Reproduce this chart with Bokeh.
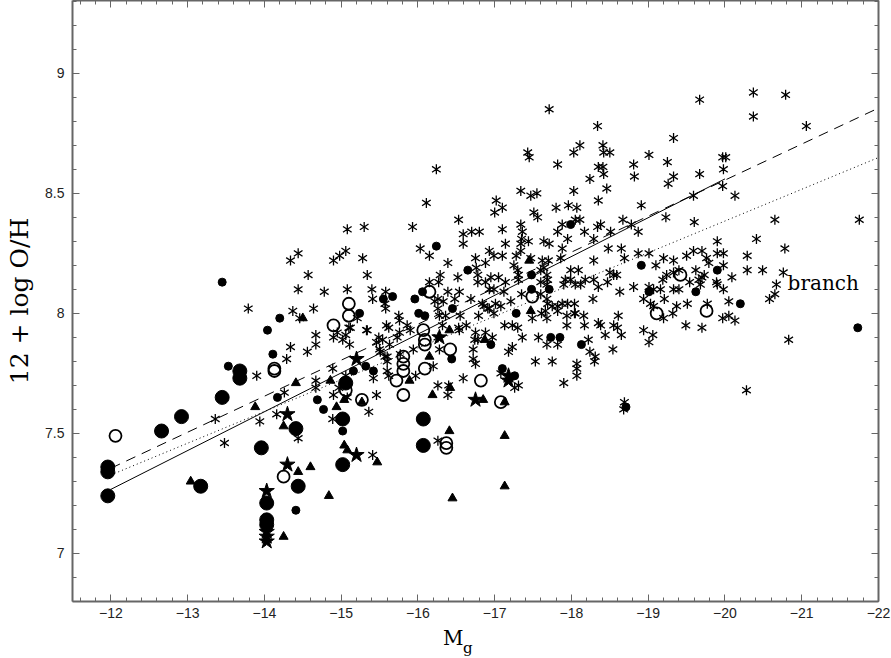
import numpy as np
from bokeh.plotting import figure
from bokeh.layouts import column
from bokeh.models import Range1d, LinearAxis, FixedTicker, Label, CustomJSTickFormatter
from bokeh.embed import file_html
from bokeh.resources import INLINE

# ---------------- data ----------------
# asterisks
ast_x = [-13.79, -14.34, -14.44, -14.44, -14.37, -14.46, -14.34, -14.29, -13.90, -13.36, -13.48, -13.94, -14.16, -14.26, -14.44,
         -17.71, -18.34, -17.43, -17.45, -18.11, -18.03, -17.82, -18.35, -18.24, -16.24,
         -17.34, -17.47, -17.55, -18.03, -16.11, -17.02, -17.00, -17.10, -16.53, -17.51,
         -17.56, -17.80, -17.96, -18.07, -18.35, -15.93, -15.08, -15.30, -16.59, -16.70,
         -16.80, -16.59, -17.10, -17.34, -17.36, -17.35, -17.82, -17.88, -18.11, -18.05,
         -18.17, -18.34, -16.03, -17.64, -17.71, -17.44, -17.34, -17.95, -17.88, -18.29,
         -14.90, -14.98, -15.06, -15.28, -16.15, -16.39, -16.75, -16.93, -16.99, -17.10,
         -17.14, -16.88, -17.34, -17.28, -17.47, -17.25, -17.30, -17.31, -17.64, -17.70,
         -17.60, -17.68, -17.69, -17.86, -17.99, -18.09, -18.29, -18.29, -18.35, -14.57,
         -15.34, -15.08, -14.78, -15.40, -15.41, -14.64, -15.58, -16.29, -16.27, -16.76,
         -16.78, -16.78, -16.88, -16.95, -17.05, -17.14, -16.93, -16.99, -17.12, -17.31,
         -17.60, -17.68, -17.92, -17.90, -18.05, -18.18, -16.39, -16.26, -16.33, -16.48,
         -16.54, -16.69, -16.84, -16.91, -17.08, -17.21, -17.35, -17.60, -17.68, -17.69,
         -17.75, -17.82, -17.95, -18.28, -15.58, -15.75, -15.76, -15.59, -15.62, -15.12,
         -15.34, -15.86, -15.90, -16.26, -16.28, -16.36, -16.53, -16.63, -16.79, -16.86,
         -16.93, -16.99, -17.13, -17.23, -17.30, -17.61, -17.68, -17.94, -17.94, -18.05,
         -18.16, -18.17, -18.35,
         -16.15, -16.22, -16.52, -17.01, -17.62, -17.99, -18.12, -18.04, -17.88, -15.57,
         -19.67, -20.37, -20.79, -20.37, -21.06, -19.33, -18.41, -18.42, -18.50, -19.01,
         -18.81, -19.25, -19.97, -20.01, -18.41, -18.42, -18.82, -19.33, -19.67, -19.98,
         -19.26, -18.46, -19.97, -19.59, -20.13, -18.91, -18.67, -19.23, -20.65, -21.75,
         -18.78, -19.60, -18.38, -18.51, -18.87, -19.90, -20.41, -18.48, -18.65, -20.78,
         -18.69, -18.87, -19.01, -19.20, -19.33, -19.50, -19.59, -19.70, -19.76, -19.90,
         -19.98, -20.29, -19.10, -19.19, -19.24, -19.33, -19.40, -19.62, -19.70, -19.73,
         -19.79, -19.98, -20.09, -19.89, -19.90, -19.98, -20.29, -20.49, -20.76, -20.67,
         -20.65, -20.58, -18.47, -18.55, -18.59, -18.50, -18.63, -18.81, -18.94, -19.01,
         -19.07, -19.16, -19.21, -19.33, -19.40, -19.03, -19.07, -19.37, -19.51, -19.54,
         -19.66, -19.68,
         -19.77, -20.05, -19.97, -20.05, -20.13, -19.32, -19.20, -19.49, -19.70, -18.61,
         -18.55, -18.60, -18.94, -18.38,
         -18.44, -18.65, -19.06, -18.54, -19.01, -20.83, -20.28, -18.69, -18.68,
         -14.67, -14.90, -15.02, -14.67, -14.56, -15.11, -15.49, -15.54, -15.63, -15.51,
         -15.60, -15.06, -14.89, -14.67, -14.67, -14.90, -14.97, -15.08, -15.42, -15.62,
         -15.46, -15.36, -14.89, -15.41, -15.46, -15.73, -15.97, -16.20, -16.26, -16.39,
         -16.40, -16.26, -16.59, -16.72, -16.72, -16.75, -16.78, -16.97, -17.18, -17.23,
         -17.36, -17.53, -17.57, -17.68, -17.75, -17.82, -17.90, -18.07, -18.07, -18.07,
         -18.22, -18.24, -18.31, -17.31, -17.08,
         -14.95, -15.06, -15.10, -15.33, -15.21, -15.76, -15.50, -15.57, -15.60, -15.94,
         -15.77, -15.60,
         -16.32, -16.55, -16.54, -16.75, -16.88, -16.74, -16.26, -16.28, -17.26, -18.04,
         -18.30, -17.49, -17.66, -17.82]
ast_y = [8.02, 8.22, 8.25, 8.10, 8.01, 7.98, 7.86, 7.81, 7.74, 7.56, 7.46, 7.55, 7.58, 7.67, 7.48,
         8.85, 8.78, 8.67, 8.65, 8.70, 8.67, 8.62, 8.61, 8.56, 8.60,
         8.51, 8.49, 8.50, 8.51, 8.46, 8.47, 8.42, 8.44, 8.39, 8.42,
         8.40, 8.44, 8.45, 8.44, 8.47, 8.36, 8.35, 8.36, 8.33, 8.34,
         8.34, 8.29, 8.35, 8.37, 8.34, 8.31, 8.34, 8.37, 8.39, 8.39,
         8.34, 8.36, 8.27, 8.30, 8.29, 8.30, 8.29, 8.31, 8.27, 8.31,
         8.22, 8.24, 8.26, 8.23, 8.24, 8.21, 8.23, 8.26, 8.24, 8.24,
         8.29, 8.21, 8.26, 8.24, 8.23, 8.20, 8.18, 8.16, 8.19, 8.22,
         8.18, 8.16, 8.14, 8.23, 8.18, 8.18, 8.22, 8.14, 8.11, 8.16,
         8.16, 8.10, 8.09, 8.10, 8.06, 8.02, 8.09, 8.16, 8.13, 8.19,
         8.16, 8.13, 8.13, 8.15, 8.15, 8.13, 8.10, 8.10, 8.09, 8.14,
         8.13, 8.12, 8.14, 8.12, 8.12, 8.14, 8.09, 8.06, 8.05, 8.06,
         8.09, 8.06, 8.04, 8.02, 8.03, 8.05, 8.08, 8.08, 8.06, 8.04,
         8.03, 8.03, 8.04, 8.06, 8.02, 7.99, 7.97, 7.95, 7.94, 7.94,
         7.93, 7.95, 7.93, 8.02, 7.99, 7.99, 7.94, 7.95, 7.99, 8.03,
         8.02, 8.00, 7.95, 7.95, 7.94, 8.00, 7.98, 7.99, 7.95, 8.00,
         7.99, 7.95, 7.96,
         8.13, 8.05, 8.15, 8.04, 8.22, 8.14, 8.12, 8.04, 8.04, 8.04,
         8.89, 8.92, 8.91, 8.82, 8.78, 8.73, 8.70, 8.67, 8.67, 8.66,
         8.62, 8.63, 8.65, 8.65, 8.61, 8.58, 8.57, 8.57, 8.58, 8.60,
         8.54, 8.52, 8.53, 8.49, 8.49, 8.45, 8.39, 8.40, 8.39, 8.39,
         8.37, 8.38, 8.37, 8.34, 8.34, 8.30, 8.31, 8.27, 8.27, 8.27,
         8.23, 8.25, 8.25, 8.23, 8.22, 8.24, 8.26, 8.26, 8.23, 8.25,
         8.25, 8.24, 8.20, 8.14, 8.16, 8.17, 8.18, 8.18, 8.15, 8.16,
         8.21, 8.20, 8.15, 8.13, 8.12, 8.10, 8.18, 8.18, 8.17, 8.12,
         8.08, 8.06, 8.13, 8.16, 8.16, 8.17, 8.09, 8.11, 8.06, 8.11,
         8.10, 8.10, 8.06, 8.10, 8.10, 8.04, 8.03, 8.03, 8.04, 8.13,
         8.14, 8.12,
         8.04, 8.05, 7.98, 7.99, 7.97, 8.00, 7.98, 7.95, 7.94, 7.99,
         7.95, 7.94, 7.93, 7.95,
         7.91, 7.91, 7.91, 7.85, 7.88, 7.89, 7.68, 7.63, 7.60,
         7.91, 7.90, 7.89, 7.87, 7.84, 7.87, 7.90, 7.89, 7.87, 7.84,
         7.82, 7.74, 7.77, 7.72, 7.69, 7.66, 7.69, 7.65, 7.73, 7.74,
         7.66, 7.59, 7.56, 7.41, 7.88, 7.90, 7.74, 7.78, 7.70, 7.66,
         7.70, 7.47, 7.73, 7.85, 7.81, 7.79, 7.89, 7.90, 7.84, 7.86,
         7.90, 7.80, 7.90, 7.87, 7.80, 7.87, 7.71, 7.79, 7.77, 7.74,
         7.89, 7.84, 7.82, 7.70, 7.75,
         7.92, 7.91, 7.94, 7.93, 7.98, 7.92, 7.85, 7.82, 7.80, 7.85,
         7.83, 7.76,
         7.95, 7.99, 7.93, 7.92, 7.92, 7.89, 7.90, 7.85, 7.69, 8.00,
         7.80, 7.98, 8.01, 8.01]

# small filled circles
dot_x = [-13.45, -14.20, -14.04, -13.53, -14.11, -14.17, -14.41, -14.69, -14.77, -15.16,
         -15.32, -15.42, -15.02, -15.24, -16.24, -16.65, -15.55, -15.67, -15.96, -16.06,
         -16.01, -16.09, -16.45, -17.28, -17.48, -17.48, -17.71, -17.99, -16.95, -17.73,
         -17.85, -18.13, -17.10, -17.26, -16.44, -18.91, -19.01, -19.62, -19.90, -20.20,
         -21.73, -18.71]
dot_y = [8.13, 7.98, 7.93, 7.78, 7.83, 7.65, 7.18, 7.64, 7.60, 7.76,
         7.78, 7.76, 7.51, 8.00, 8.28, 8.18, 8.06, 8.07, 8.06, 8.09,
         8.00, 7.99, 8.02, 8.00, 8.16, 8.10, 8.10, 8.37, 7.87, 7.90,
         7.90, 7.87, 7.77, 7.74, 7.81, 8.20, 8.09, 8.09, 8.18, 8.04,
         7.94, 7.61]

# large filled circles
big_x = [-11.96, -11.96, -11.96, -12.66, -12.92, -13.17, -13.45, -13.68, -13.68, -13.96,
         -14.03, -14.03, -14.03, -14.41, -14.44, -15.06, -15.02, -15.02, -16.07, -16.07]
big_y = [7.24, 7.36, 7.34, 7.51, 7.57, 7.28, 7.65, 7.76, 7.73, 7.44,
         7.21, 7.14, 7.12, 7.52, 7.28, 7.71, 7.56, 7.37, 7.56, 7.45]

# open circles
open_x = [-12.06, -14.13, -14.13, -14.25, -15.10, -15.10, -14.90, -16.15, -16.07, -17.49,
          -15.06, -15.27, -15.81, -15.81, -15.81, -15.72, -15.81, -16.09, -16.09, -16.42,
          -16.09, -16.82, -17.08, -16.37, -16.37, -19.42, -19.11, -19.76]
open_y = [7.49, 7.77, 7.76, 7.32, 8.04, 7.99, 7.95, 8.09, 7.93, 8.07,
          7.68, 7.64, 7.82, 7.79, 7.76, 7.72, 7.66, 7.89, 7.87, 7.85,
          7.77, 7.72, 7.63, 7.46, 7.44, 8.16, 8.00, 8.01]

# filled triangles
tri_x = [-13.04, -13.88, -14.25, -14.25, -14.41, -14.44, -14.50, -14.86, -14.94, -15.04,
         -15.04, -15.08, -15.47, -14.60, -15.27, -15.89, -16.41, -16.15, -16.87, -16.42,
         -16.19, -16.85, -17.13, -16.41, -17.13, -17.13, -17.47, -14.84, -16.45, -17.45]
tri_y = [7.30, 7.61, 7.53, 7.07, 7.71, 7.34, 7.98, 7.72, 7.61, 7.64,
         7.45, 7.43, 7.38, 7.36, 7.63, 7.72, 7.93, 7.82, 7.89, 7.69,
         7.66, 7.64, 7.63, 7.51, 7.49, 7.28, 8.01, 7.24, 7.23, 8.22]

# filled stars
star_x = [-14.03, -14.30, -14.30, -14.03, -14.03, -14.03, -15.20, -15.20, -16.28, -16.75,
          -17.18, -17.18]
star_y = [7.26, 7.58, 7.37, 7.09, 7.07, 7.05, 7.81, 7.41, 7.90, 7.64,
          7.74, 7.72]

# fitted relations
solid_x = [-12.0, -20.0]
solid_y = [7.267, 8.56]
dashed_x = [-12.0, -22.0]
dashed_y = [7.355, 8.855]
dotted_x = [-12.0, -22.0]
dotted_y = [7.327, 8.649]

# axes
x_ticks = [-12, -13, -14, -15, -16, -17, -18, -19, -20, -21, -22]
x_tick_labels = ["\u221212", "\u221213", "\u221214", "\u221215", "\u221216", "\u221217",
                 "\u221218", "\u221219", "\u221220", "\u221221", "\u221222"]
y_ticks = [7, 7.5, 8, 8.5, 9]
y_tick_labels = ["7", "7.5", "8", "8.5", "9"]
y_label = "12 + log O/H"
x_label_main = "M"
x_label_sub = "g"
branch_text = "branch"

# ---------------- main figure ----------------
main = figure(width=891, height=620, output_backend="svg", toolbar_location=None,
              x_range=Range1d(-11.5, -22), y_range=Range1d(6.8, 9.303),
              x_axis_location=None, y_axis_location=None,
              min_border_left=72, min_border_right=13, min_border_top=0, min_border_bottom=10)
main.xgrid.visible = False
main.ygrid.visible = False
main.outline_line_color = None

AX = "#666666"
x_minor = [round(v, 1) for v in np.arange(-11.6, -22.05, -0.2)]
y_minor = [round(v, 1) for v in np.arange(6.8, 9.35, 0.1)]
blank = CustomJSTickFormatter(code="return ''")


def style_axis(ax, show_labels):
    ax.axis_line_color = AX
    ax.axis_line_width = 2
    ax.major_tick_in = 7
    ax.major_tick_out = 0
    ax.minor_tick_in = 4
    ax.minor_tick_out = 0
    ax.major_tick_line_color = AX
    ax.minor_tick_line_color = AX
    ax.major_tick_line_width = 1
    ax.minor_tick_line_width = 1
    if show_labels:
        ax.major_label_text_font = "Liberation Sans"
        ax.major_label_text_font_size = "14px"
        ax.major_label_text_color = "#222222"
    else:
        ax.formatter = blank
        ax.major_label_text_font_size = "1px"
        ax.major_label_standoff = 0


bottom = LinearAxis(ticker=FixedTicker(ticks=x_ticks, minor_ticks=x_minor))
bottom.major_label_overrides = {t: s for t, s in zip(x_ticks, x_tick_labels)}
style_axis(bottom, True)
bottom.major_label_standoff = 6
main.add_layout(bottom, "below")

top = LinearAxis(ticker=FixedTicker(ticks=x_ticks, minor_ticks=x_minor))
style_axis(top, False)
main.add_layout(top, "above")

left = LinearAxis(ticker=FixedTicker(ticks=y_ticks, minor_ticks=y_minor))
left.major_label_overrides = {t: s for t, s in zip(y_ticks, y_tick_labels)}
style_axis(left, True)
left.major_label_standoff = 8
left.axis_label = y_label
left.axis_label_text_font = "DejaVu Serif"
left.axis_label_text_font_size = "25px"
left.axis_label_text_font_style = "normal"
left.axis_label_text_color = "black"
left.axis_label_standoff = 8
main.add_layout(left, "left")

right = LinearAxis(ticker=FixedTicker(ticks=y_ticks, minor_ticks=y_minor))
style_axis(right, False)
main.add_layout(right, "right")

# fitted lines
main.line(solid_x, solid_y, line_color="black", line_width=1)
main.line(dashed_x, dashed_y, line_color="black", line_width=1, line_dash="10 7")
main.line(dotted_x, dotted_y, line_color="black", line_width=1, line_dash="1 3")

# asterisks (six-armed: two opposed "y" markers)
main.scatter(ast_x, ast_y, marker="y", size=10, line_color="black", line_width=1.3)
main.scatter(ast_x, ast_y, marker="y", size=10, angle=np.pi, line_color="black", line_width=1.3)

main.scatter(tri_x, tri_y, marker="triangle", size=9, fill_color="black", line_color="black")
main.scatter(dot_x, dot_y, marker="circle", size=8, fill_color="black", line_color="black")
main.scatter(big_x, big_y, marker="circle", size=14, fill_color="black", line_color="black")
main.scatter(open_x, open_y, marker="circle", size=12, fill_color=None, line_color="black", line_width=1.8)
main.scatter(star_x, star_y, marker="star", size=16, fill_color="black", line_color="black")

main.add_layout(Label(x=-20.816, y=8.126, text=branch_text, text_font="DejaVu Serif",
                      text_font_size="20px", text_color="black", text_baseline="alphabetic",
                      text_align="left"))

# ---------------- x-axis title strip (M with subscript g) ----------------
lab = figure(width=891, height=36, output_backend="svg", toolbar_location=None,
             x_range=main.x_range, y_range=Range1d(0, 36),
             x_axis_location=None, y_axis_location=None,
             min_border_left=72, min_border_right=13, min_border_top=0, min_border_bottom=0)
lab.xgrid.visible = False
lab.ygrid.visible = False
lab.outline_line_color = None
lab.add_layout(Label(x=-16.46, y=19, text=x_label_main, text_font="DejaVu Serif",
                     text_font_size="20px", text_color="black", text_baseline="middle",
                     text_align="center"))
lab.add_layout(Label(x=-16.65, y=9, text=x_label_sub, text_font="DejaVu Serif",
                     text_font_size="15px", text_color="black", text_baseline="middle",
                     text_align="center"))

p = column(main, lab, spacing=0)
open("out.html", "w").write(file_html(p, INLINE))
